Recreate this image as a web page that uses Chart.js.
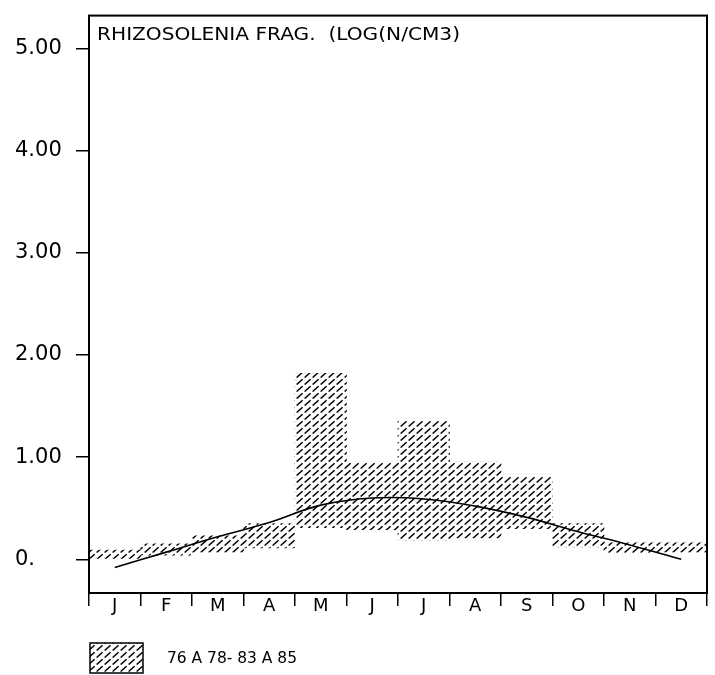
<!DOCTYPE html>
<html>
<head>
<meta charset="utf-8">
<script src="https://cdn.jsdelivr.net/npm/chart.js@4/dist/chart.umd.min.js"></script>
<style>
  html, body { margin: 0; padding: 0; background: #fff; }
  canvas { display: block; }
</style>
</head>
<body>
<canvas id="chart" width="715" height="675"></canvas>
<script>
const TITLE = 'RHIZOSOLENIA FRAG.  (LOG(N/CM3)';
const SERIES_LABEL = '76 A 78- 83 A 85';
const months = ['J', 'F', 'M', 'A', 'M', 'J', 'J', 'A', 'S', 'O', 'N', 'D'];
const rangeLow = [0.00, 0.04, 0.07, 0.11, 0.31, 0.29, 0.19, 0.21, 0.30, 0.12, 0.06, 0.07];
const rangeHigh = [0.09, 0.15, 0.23, 0.35, 1.82, 0.94, 1.35, 0.95, 0.81, 0.35, 0.16, 0.16];
const meanCurve = [-0.08, 0.07, 0.22, 0.36, 0.53, 0.60, 0.59, 0.52, 0.41, 0.27, 0.14, 0.00];
const yTicks = [0, 1, 2, 3, 4, 5];
const yTickLabels = ['0.', '1.00', '2.00', '3.00', '4.00', '5.00'];

const FONT = '"DejaVu Sans", sans-serif';

// dashed diagonal hatch, like the plotter fill
function makeHatch() {
  const c = document.createElement('canvas');
  c.width = 8;
  c.height = 7;
  const g = c.getContext('2d');
  g.strokeStyle = '#000';
  g.lineWidth = 1.5;
  g.beginPath();
  g.moveTo(0.6, 6.5);
  g.lineTo(6.6, 1.2);
  g.stroke();
  return g.createPattern(c, 'repeat');
}
const hatch = makeHatch();

// stretch text to a given width (plotter lettering is wide)
function fitText(ctx, text, x, y, width) {
  const w = ctx.measureText(text).width;
  ctx.save();
  ctx.translate(x, y);
  ctx.scale(width / w, 1);
  ctx.fillText(text, 0, 0);
  ctx.restore();
}

const framePlugin = {
  id: 'frame',
  afterDraw(chart) {
    const { ctx, chartArea: a } = chart;
    ctx.save();
    ctx.strokeStyle = '#000';
    ctx.lineWidth = 2;
    ctx.strokeRect(a.left, a.top, a.right - a.left, a.bottom - a.top);

    // title inside the plot
    ctx.fillStyle = '#000';
    ctx.font = '18px ' + FONT;
    ctx.textBaseline = 'middle';
    ctx.textAlign = 'left';
    fitText(ctx, TITLE, a.left + 8, 35, 363);

    // legend entry under the axis
    ctx.fillStyle = hatch;
    ctx.fillRect(90, 643, 53, 30);
    ctx.lineWidth = 1.5;
    ctx.strokeRect(90, 643, 53, 30);
    ctx.fillStyle = '#000';
    ctx.font = '16px ' + FONT;
    fitText(ctx, chart.data.datasets[1].label, 167, 659, 130);
    ctx.restore();
  }
};

new Chart(document.getElementById('chart'), {
  data: {
    labels: months,
    datasets: [
      {
        type: 'line',
        label: 'mean',
        data: meanCurve,
        borderColor: '#000',
        borderWidth: 1.6,
        pointRadius: 0,
        tension: 0.4,
        fill: false,
        order: 0
      },
      {
        type: 'bar',
        label: SERIES_LABEL,
        data: months.map((m, i) => [rangeLow[i], rangeHigh[i]]),
        backgroundColor: hatch,
        borderWidth: 0,
        barPercentage: 1,
        categoryPercentage: 1,
        order: 1
      }
    ]
  },
  options: {
    responsive: false,
    animation: false,
    layout: { padding: { left: 15, top: 14, right: 8, bottom: 60 } },
    scales: {
      x: {
        type: 'category',
        offset: true,
        afterFit: (s) => { s.height = 22; },
        border: { display: true, color: '#000', width: 2 },
        grid: {
          offset: true,
          drawOnChartArea: false,
          drawTicks: true,
          tickLength: 13,
          color: '#000',
          lineWidth: 1.5
        },
        ticks: {
          color: '#000',
          padding: -10,
          maxRotation: 0,
          autoSkip: false,
          font: { family: FONT, size: 18 }
        }
      },
      y: {
        min: -0.33,
        max: 5.32,
        afterFit: (s) => { s.width = 74; },
        afterBuildTicks: (s) => { s.ticks = yTicks.map(v => ({ value: v })); },
        border: { display: true, color: '#000', width: 2 },
        grid: {
          drawOnChartArea: false,
          tickLength: 13,
          color: '#000',
          lineWidth: 1.5
        },
        ticks: {
          color: '#000',
          crossAlign: 'far',
          font: { family: FONT, size: 21 },
          callback: (v) => yTickLabels[yTicks.indexOf(v)]
        }
      }
    },
    plugins: {
      legend: { display: false },
      tooltip: { enabled: false }
    }
  },
  plugins: [framePlugin]
});
</script>
</body>
</html>
